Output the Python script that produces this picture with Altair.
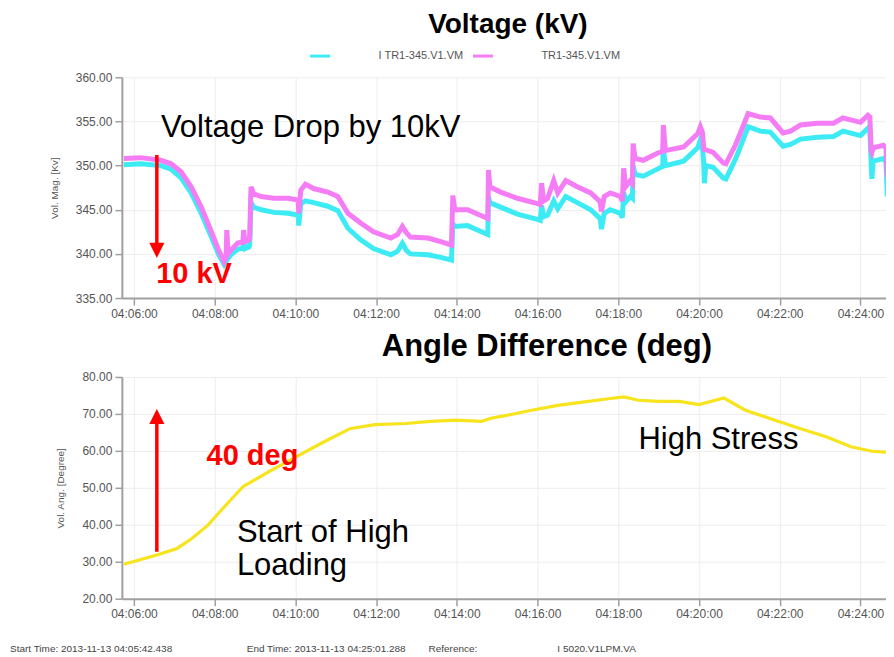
import altair as alt
import pandas as pd

DAY = "2013-11-13 "

# ---------------- data ----------------
volt_time = [
    "04:05:45", "04:06:10", "04:06:40", "04:06:55", "04:07:10", "04:07:25", "04:07:40", "04:07:54",
    "04:08:06", "04:08:14", "04:08:17", "04:08:18", "04:08:20", "04:08:24", "04:08:34", "04:08:42",
    "04:08:43", "04:08:45", "04:08:51", "04:08:52", "04:08:54", "04:08:58", "04:09:09", "04:09:28",
    "04:09:49", "04:10:04", "04:10:05", "04:10:08", "04:10:15", "04:10:27", "04:10:48", "04:11:03",
    "04:11:18", "04:11:37", "04:11:56", "04:12:22", "04:12:32", "04:12:39", "04:12:45", "04:12:51",
    "04:13:17", "04:13:36", "04:13:52", "04:13:54", "04:13:57", "04:14:16", "04:14:40", "04:14:46",
    "04:14:47", "04:14:49", "04:15:05", "04:15:30", "04:16:00", "04:16:04", "04:16:06", "04:16:09",
    "04:16:15", "04:16:24", "04:16:30", "04:16:42", "04:16:59", "04:17:19", "04:17:33", "04:17:35",
    "04:17:39", "04:17:48", "04:18:03", "04:18:06", "04:18:08", "04:18:11", "04:18:18", "04:18:21",
    "04:18:22", "04:18:25", "04:18:37", "04:18:58", "04:19:06", "04:19:07", "04:19:10", "04:19:37",
    "04:19:58", "04:20:02", "04:20:05", "04:20:07", "04:20:08", "04:20:10", "04:20:21", "04:20:36",
    "04:20:40", "04:20:54", "04:21:01", "04:21:13", "04:21:31", "04:21:46", "04:22:05", "04:22:16",
    "04:22:31", "04:22:56", "04:23:20", "04:23:34", "04:24:00", "04:24:11", "04:24:14", "04:24:16",
    "04:24:17", "04:24:19", "04:24:34", "04:24:38", "04:24:40", "04:24:44", "04:24:50",
]
magenta_kv = [
    350.8, 350.9, 350.6, 350.2, 349.3, 347.6, 345.3, 342.7,
    340.4, 339.1, 339.6, 342.7, 340.0, 340.4, 341.2, 341.4,
    342.7, 341.4, 341.6, 341.8, 347.6, 346.8, 346.5, 346.3,
    346.3, 346.1, 344.6, 347.2, 347.9, 347.4, 347.0, 346.5,
    344.6, 343.5, 342.5, 341.8, 342.2, 343.1, 342.4, 341.9,
    341.8, 341.4, 341.0, 346.6, 345.0, 345.0, 344.2, 344.0,
    349.5, 347.6, 347.0, 346.3, 345.7, 345.6, 348.0, 346.0,
    346.3, 348.3, 346.9, 348.3, 347.6, 346.9, 345.9, 344.8,
    346.5, 346.9, 346.5, 346.0, 349.7, 347.6, 348.3, 348.0,
    352.5, 350.8, 350.6, 351.4, 351.6, 354.6, 351.7, 352.1,
    353.6, 354.4, 353.8, 352.0, 351.8, 351.8, 351.5, 350.3,
    350.2, 352.3, 353.6, 355.9, 355.5, 355.4, 353.7, 353.9,
    354.6, 354.8, 354.8, 355.4, 354.9, 355.7, 355.5, 351.7,
    351.5, 352.0, 352.3, 352.0, 348.7, 349.6, 349.9,
]
cyan_kv = [
    350.1, 350.2, 350.0, 349.6, 348.6, 346.9, 344.6, 342.1,
    339.9, 338.8, 339.2, 341.5, 339.5, 339.9, 340.5, 340.7,
    341.6, 340.6, 340.8, 341.0, 345.8, 345.3, 345.0, 344.7,
    344.6, 344.4, 343.2, 345.7, 346.0, 345.8, 345.4, 344.9,
    342.9, 341.6, 340.6, 339.9, 340.3, 341.2, 340.4, 340.0,
    339.9, 339.6, 339.3, 343.4, 343.1, 343.2, 342.4, 342.2,
    346.5, 345.8, 345.3, 344.5, 343.9, 343.8, 345.5, 344.2,
    344.4, 346.0, 345.1, 346.5, 345.8, 345.0, 344.0, 342.8,
    344.6, 345.0, 344.6, 344.1, 347.0, 345.9, 346.5, 346.3,
    350.0, 349.0, 348.8, 349.6, 349.9, 352.0, 350.0, 350.5,
    352.0, 352.9, 352.2, 350.3, 348.0, 350.0, 349.8, 348.6,
    348.5, 350.7, 352.0, 354.4, 353.9, 353.8, 352.2, 352.4,
    353.0, 353.2, 353.3, 353.9, 353.4, 354.2, 354.0, 350.2,
    348.5, 350.5, 350.8, 350.4, 346.5, 348.0, 348.3,
]
angle_time = [
    "04:05:45", "04:06:34", "04:07:04", "04:07:26", "04:07:50", "04:08:12", "04:08:42", "04:09:20",
    "04:10:05", "04:10:42", "04:11:21", "04:11:58", "04:12:44", "04:13:21", "04:13:58", "04:14:37",
    "04:14:52", "04:15:14", "04:15:51", "04:16:30", "04:17:07", "04:17:45", "04:18:08", "04:18:30",
    "04:19:00", "04:19:31", "04:20:00", "04:20:37", "04:21:09", "04:21:53", "04:22:31", "04:23:09",
    "04:23:46", "04:24:17", "04:24:50",
]
angle_deg = [
    29.3, 31.8, 33.6, 36.3, 39.9, 44.4, 50.3, 54.3,
    58.8, 62.4, 66.0, 67.1, 67.4, 68.0, 68.3, 68.0,
    68.9, 69.6, 71.0, 72.3, 73.2, 74.1, 74.6, 73.7,
    73.4, 73.4, 72.5, 74.3, 71.0, 68.3, 66.0, 63.8,
    61.1, 59.9, 59.5,
]
series_names = ["I TR1-345.V1.VM", "TR1-345.V1.VM"]
series_colors = ["#3DEBF5", "#F47CF4"]
angle_color = "#F7E41C"

volt_ticks = [335, 340, 345, 350, 355, 360]
angle_ticks = [20, 30, 40, 50, 60, 70, 80]
footer_texts = ["Start Time: 2013-11-13 04:05:42.438", "End Time: 2013-11-13 04:25:01.288",
                "Reference:", "I 5020.V1LPM.VA"]

# ---------------- tables ----------------
def ts(hms):
    return pd.to_datetime([DAY + h for h in hms])

cyan_df = pd.DataFrame({"t": ts(volt_time), "v": cyan_kv, "s": series_names[0]})
mag_df = pd.DataFrame({"t": ts(volt_time), "v": magenta_kv, "s": series_names[1]})
ang_df = pd.DataFrame({"t": ts(angle_time), "v": angle_deg})

FONT = "Liberation Sans"
W = 765
H1 = 221
H2 = 222

def dt(h, m, s=0):
    return alt.DateTime(year=2013, month=11, date=13, hours=h, minutes=m, seconds=s)

x_domain = [dt(4, 5, 42), dt(4, 24, 38)]
x_values = [dt(4, m) for m in range(6, 25, 2)]


def x_enc():
    return alt.X("t:T", scale=alt.Scale(domain=x_domain),
                 axis=alt.Axis(values=x_values, format="%H:%M:%S", title=None,
                               grid=True, tickSize=7, labelPadding=3),
                 title=None)


def y_volt():
    return alt.Y("v:Q", scale=alt.Scale(domain=[335, 360], nice=False),
                 axis=alt.Axis(values=volt_ticks, format=".2f", title="Vol. Mag. [Kv]",
                               titlePadding=16))


def y_angle():
    return alt.Y("v:Q", scale=alt.Scale(domain=[20, 80], nice=False),
                 axis=alt.Axis(values=angle_ticks, format=".2f", title="Vol. Ang. [Degree]",
                               titlePadding=16))


color_scale = alt.Scale(domain=series_names, range=series_colors)
legend = alt.Legend(orient="none", legendX=187, legendY=-33, direction="horizontal",
                    title=None, symbolType="stroke", symbolSize=400, symbolStrokeWidth=3,
                    labelOffset=47, columnPadding=3, labelFont=FONT, labelFontSize=11,
                    labelColor="#555555")

cyan_line = alt.Chart(cyan_df).mark_line(strokeWidth=5, clip=True).encode(
    x=x_enc(), y=y_volt(), color=alt.Color("s:N", scale=color_scale, legend=legend))
mag_line = alt.Chart(mag_df).mark_line(strokeWidth=5, clip=True).encode(
    x=x_enc(), y=y_volt(), color=alt.Color("s:N", scale=color_scale, legend=legend))


def note(t, v, label, size, yenc, color="black", bold=False):
    df = pd.DataFrame({"t": ts([t]), "v": [v], "label": [label]})
    return alt.Chart(df).mark_text(
        font=FONT, fontSize=size, color=color, fontWeight="bold" if bold else "normal",
        align="left", baseline="alphabetic").encode(x=x_enc(), y=yenc(), text="label:N")


def arrow(t, v_from, v_to, v_head, path, yenc):
    df = pd.DataFrame({"t": ts([t]), "v": [v_from], "v2": [v_to]})
    line = alt.Chart(df).mark_rule(color="#FF0000", strokeWidth=3.5).encode(
        x=x_enc(), y=yenc(), y2="v2:Q")
    hdf = pd.DataFrame({"t": ts([t]), "v": [v_head]})
    head = alt.Chart(hdf).mark_point(shape=path, filled=True, size=230, color="#FF0000",
                                     opacity=1, strokeWidth=0).encode(x=x_enc(), y=yenc())
    return line + head


top = alt.layer(
    cyan_line, mag_line,
    arrow("04:06:34", 351.2, 341.2, 340.4, "M-1,-1L1,-1L0,1Z", y_volt),
    note("04:06:40", 353.2, "Voltage Drop by 10kV", 31, y_volt),
    note("04:06:33", 336.7, "10 kV", 29, y_volt, color="#FF0000", bold=True),
).properties(
    width=W, height=H1,
    title=alt.TitleParams("Voltage (kV)", font=FONT, fontSize=28, fontWeight="bold",
                          color="black", anchor="middle", offset=32, dx=4),
)

ang_line = alt.Chart(ang_df).mark_line(strokeWidth=3.2, color=angle_color, clip=True).encode(
    x=x_enc(), y=y_angle())

footer_x = [-112, 125, 307, 436]
footer_layers = []
for txt, px in zip(footer_texts, footer_x):
    footer_layers.append(
        alt.Chart(pd.DataFrame({"label": [txt]})).mark_text(
            font=FONT, fontSize=10, color="#444444", align="left", baseline="middle"
        ).encode(text="label:N", x=alt.value(px), y=alt.value(272))
    )

bottom = alt.layer(
    ang_line,
    arrow("04:06:34", 32.7, 67.8, 69.3, "M0,-1L1,1L-1,1Z", y_angle),
    note("04:07:48", 56.2, "40 deg", 29, y_angle, color="#FF0000", bold=True),
    note("04:08:33", 35.4, "Start of High", 31, y_angle),
    note("04:08:33", 26.5, "Loading", 31, y_angle),
    note("04:18:30", 60.5, "High Stress", 31, y_angle),
    *footer_layers,
).properties(
    width=W, height=H2,
    title=alt.TitleParams("Angle Difference (deg)", font=FONT, fontSize=31, fontWeight="bold",
                          color="black", anchor="middle", offset=8, dx=43),
)

chart = alt.vconcat(top, bottom, spacing=12).properties(
    padding={"left": 2, "top": 3, "right": 0, "bottom": 0},
    background="white",
).configure_view(stroke=None).configure_axis(
    domainColor="#a0a0a0", domainWidth=2, tickColor="#a0a0a0", tickWidth=1.5,
    gridColor="#ededed", gridWidth=1, labelFont=FONT, labelFontSize=12, labelColor="#555555",
    titleFont=FONT, titleFontSize=10, titleFontWeight="normal", titleColor="#555555",
    tickSize=7, labelPadding=3,
).configure_legend(padding=0)

chart.save("out.html", embed_options={"renderer": "svg", "actions": False})
